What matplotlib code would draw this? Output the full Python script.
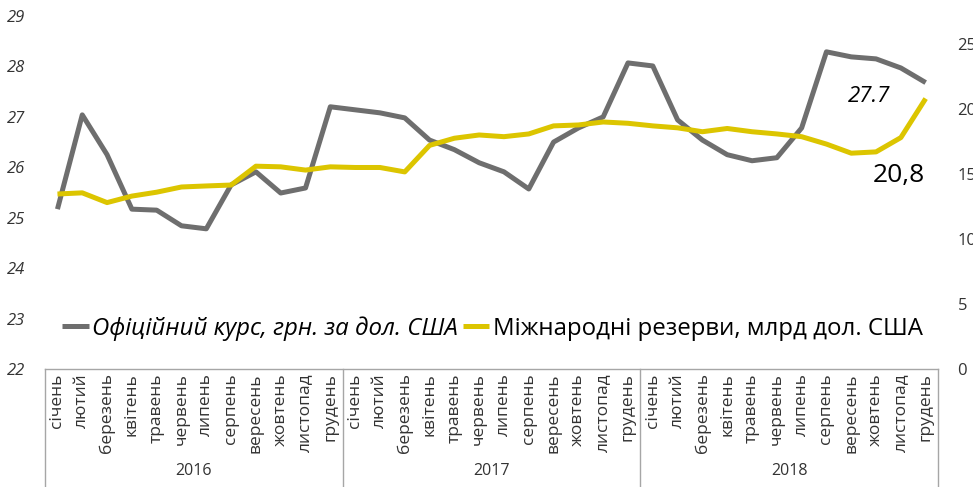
import numpy as np
import matplotlib
matplotlib.use('Agg')
import matplotlib.pyplot as plt
import matplotlib.transforms as mtransforms

plt.rcParams['font.family'] = ['Open Sans', 'DejaVu Sans']

# Дані
misiatsi = ['січень', 'лютий', 'березень', 'квітень', 'травень', 'червень',
            'липень', 'серпень', 'вересень', 'жовтень', 'листопад', 'грудень']
roky = ['2016', '2017', '2018']

kurs = [25.17, 27.04, 26.25, 25.17, 25.15, 24.84, 24.78, 25.65, 25.91, 25.49, 25.59, 27.20,
        27.14, 27.08, 26.98, 26.54, 26.35, 26.09, 25.91, 25.57, 26.50, 26.78, 27.00, 28.07,
        28.01, 26.94, 26.54, 26.25, 26.13, 26.19, 26.78, 28.29, 28.19, 28.15, 27.97, 27.68]

rezervy = [13.46, 13.55, 12.80, 13.30, 13.60, 14.00, 14.08, 14.15, 15.60, 15.55, 15.30, 15.55,
           15.50, 15.50, 15.16, 17.20, 17.75, 18.00, 17.87, 18.08, 18.70, 18.77, 19.00, 18.90,
           18.70, 18.55, 18.25, 18.50, 18.25, 18.08, 17.87, 17.30, 16.60, 16.70, 17.80, 20.80]

label_kurs = 'Офіційний курс, грн. за дол. США'
label_rez = 'Міжнародні резерви, млрд дол. США'

gray = '#6e6e6e'
yellow = '#dcc500'
frame = '#a6a6a6'

x = np.arange(len(kurs))
fig = plt.figure(figsize=(9.73, 4.87), dpi=100)
ax = fig.add_axes([0.0463, 0.2423, 0.9178, 0.7248])
ax2 = ax.twinx()

l1, = ax.plot(x, kurs, color=gray, lw=3.6, solid_capstyle='butt', label=label_kurs)
l2, = ax2.plot(x, rezervy, color=yellow, lw=3.6, solid_capstyle='butt', label=label_rez)

ax.set_xlim(-0.5, len(kurs) - 0.5)
ax.set_ylim(22, 29)
ax2.set_ylim(0, 27.15)
ax.set_yticks(range(22, 30))
ax2.set_yticks(range(0, 30, 5))

for a in (ax, ax2):
    for s in a.spines.values():
        s.set_visible(False)
ax.spines['bottom'].set_visible(True)
ax.spines['bottom'].set_color(frame)
ax.spines['bottom'].set_linewidth(1)

ax.tick_params(axis='y', length=0, pad=14, labelsize=12, labelcolor='#333333')
for t in ax.get_yticklabels():
    t.set_style('italic')
ax2.tick_params(axis='y', length=0, pad=14, labelsize=12, labelcolor='#333333')

ax.set_xticks(x)
ax.set_xticklabels(misiatsi * 3, rotation=90, fontsize=12.5, color='#333333')
ax.tick_params(axis='x', length=0, pad=3)

# рамка категорій
trans = mtransforms.blended_transform_factory(ax.transData, ax.transAxes)
bottom = -0.334
for xs in [-0.5, 11.5, 23.5, 35.5]:
    ax.plot([xs, xs], [0, bottom], color=frame, lw=1, transform=trans, clip_on=False)
for i, r in enumerate(roky):
    ax.text(i * 12 + 5.5, -0.29, r, transform=trans, ha='center', va='center',
            fontsize=11.5, color='#333333')

# підписи останніх значень
ax.text(32.7, 27.4, '27.7', fontsize=16, style='italic', ha='center', va='center')
ax2.text(33.9, 14.9, '20,8', fontsize=19, ha='center', va='center')

leg = ax.legend([l1, l2], [label_kurs, label_rez], loc='center left',
                bbox_to_anchor=(-0.005, 0.115), ncol=2, frameon=False, fontsize=17.3,
                handlelength=1.1, handletextpad=0.15, columnspacing=0.2)
leg.get_texts()[0].set_style('italic')

fig.savefig('out.png', dpi=100)
